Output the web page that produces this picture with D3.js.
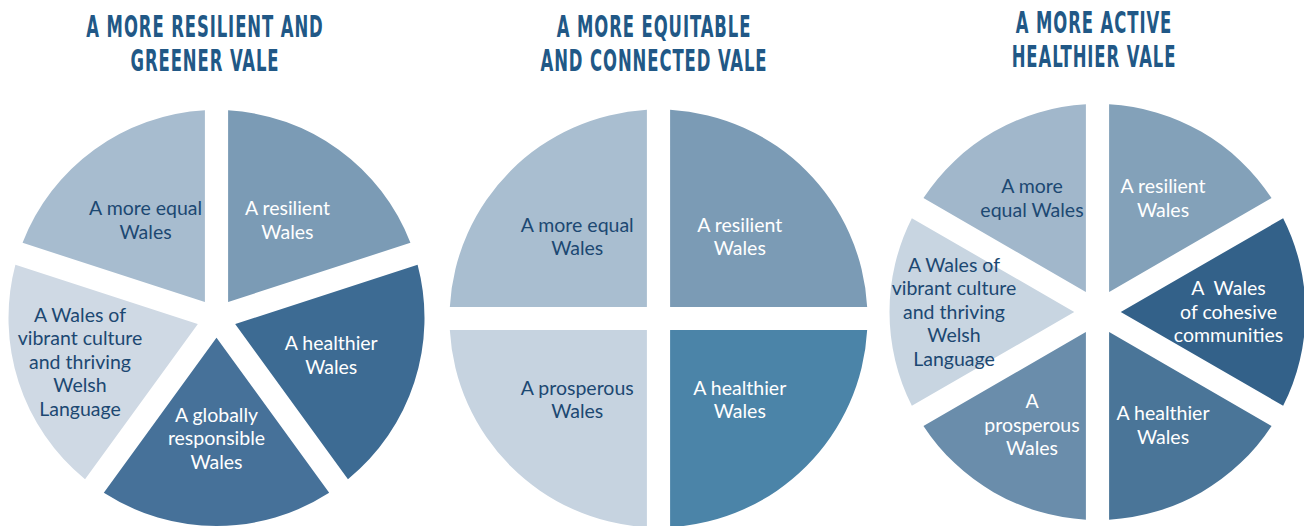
<!DOCTYPE html>
<html>
<head>
<meta charset="utf-8">
<script src="https://cdn.jsdelivr.net/npm/d3@7"></script>
<style>
  body { margin: 0; background: #fff; }
  .title { font-family: "DejaVu Sans Condensed", "DejaVu Sans", sans-serif; font-weight: bold; fill: #215886; }
  .label { font-family: Lato, "Noto Sans", sans-serif; font-size: 19.5px; white-space: pre; }
</style>
</head>
<body>
<svg width="1304" height="526"></svg>
<script>
// titles, one array per chart
const greenerTitle = ['A MORE RESILIENT AND', 'GREENER VALE'];
const equitableTitle = ['A MORE EQUITABLE', 'AND CONNECTED VALE'];
const activeTitle = ['A MORE ACTIVE', 'HEALTHIER VALE'];

// slices, clockwise from 12 o'clock
const greenerCategories = ['A resilient\nWales', 'A healthier\nWales', 'A globally\nresponsible\nWales',
  'A Wales of\nvibrant culture\nand thriving\nWelsh\nLanguage', 'A more equal\nWales'];
const greenerValues = [1, 1, 1, 1, 1];
const greenerColors = ['#7b9bb5', '#3d6b93', '#467199', '#cfd9e4', '#a7bccf'];

const equitableCategories = ['A resilient\nWales', 'A healthier\nWales', 'A prosperous\nWales', 'A more equal\nWales'];
const equitableValues = [1, 1, 1, 1];
const equitableColors = ['#7b9bb5', '#4b84a8', '#c6d3e0', '#a9bed0'];

const activeCategories = ['A resilient\nWales', 'A  Wales\nof cohesive\ncommunities', 'A healthier\nWales',
  'A\nprosperous\nWales', 'A Wales of\nvibrant culture\nand thriving\nWelsh\nLanguage', 'A more\nequal Wales'];
const activeValues = [1, 1, 1, 1, 1, 1];
const activeColors = ['#83a1b9', '#336189', '#4a7598', '#6a8dab', '#c8d5e1', '#a1b7cb'];

const svg = d3.select('svg');

const charts = [
  { title: greenerTitle, categories: greenerCategories, values: greenerValues, colors: greenerColors,
    cx: 216.5, cy: 318, r: 208, lf: 0.58, tx: 205, ty: 36.5 },
  { title: equitableTitle, categories: equitableCategories, values: equitableValues, colors: equitableColors,
    cx: 658.5, cy: 318.5, r: 209, lf: 0.55, tx: 654, ty: 36.5 },
  { title: activeTitle, categories: activeCategories, values: activeValues, colors: activeColors,
    cx: 1097.5, cy: 312, r: 208, lf: 0.63, tx: 1094, ty: 32.5 }
];

const halfGap = 11.6;
const lineH = 23.5;
const darkText = '#1c4872';

const pie = d3.pie().sort(null).value(d => d.value);

charts.forEach(c => {
  const n = c.values.length;
  const slice = 2 * Math.PI / n;

  // constant-width white gaps: pad on the outer edge, inner radius where the two pads meet
  const arc = d3.arc()
    .outerRadius(c.r)
    .innerRadius(halfGap / Math.sin(slice / 2) + 0.05)
    .padRadius(c.r)
    .padAngle(2 * Math.asin(halfGap / c.r));

  const data = c.categories.map((label, i) => ({ label: label.split('\n'), value: c.values[i], color: c.colors[i] }));

  const g = svg.append('g')
    .attr('transform', `translate(${c.cx},${c.cy})`);

  const arcs = pie(data);

  g.selectAll('path')
    .data(arcs)
    .join('path')
      .attr('d', arc)
      .attr('fill', d => d.data.color);

  const labels = g.selectAll('text')
    .data(arcs)
    .join('text')
      .attr('class', 'label')
      .attr('text-anchor', 'middle')
      .attr('fill', d => d3.hsl(d.data.color).l > 0.68 ? darkText : '#fff')
      .attr('transform', d => {
        const lr = c.r * (d.data.label.length >= 5 ? 0.69 : c.lf);
        const a = (d.startAngle + d.endAngle) / 2;
        const x = Math.sin(a) * lr;
        const y = -Math.cos(a) * lr - (d.data.label.length - 1) * lineH / 2 + 6.5;
        return `translate(${x},${y})`;
      });

  labels.selectAll('tspan')
    .data(d => d.data.label)
    .join('tspan')
      .attr('x', 0)
      .attr('dy', (d, i) => i ? lineH : 0)
      .text(d => d);

  // title
  const t = svg.append('text')
    .attr('class', 'title')
    .attr('text-anchor', 'middle')
    .attr('font-size', 30)
    .attr('letter-spacing', 1.5)
    .attr('transform', `translate(${c.tx},${c.ty}) scale(0.61,1)`);

  t.selectAll('tspan')
    .data(c.title)
    .join('tspan')
      .attr('x', 0)
      .attr('dy', (d, i) => i ? 35 : 0)
      .text(d => d);
});
</script>
</body>
</html>
